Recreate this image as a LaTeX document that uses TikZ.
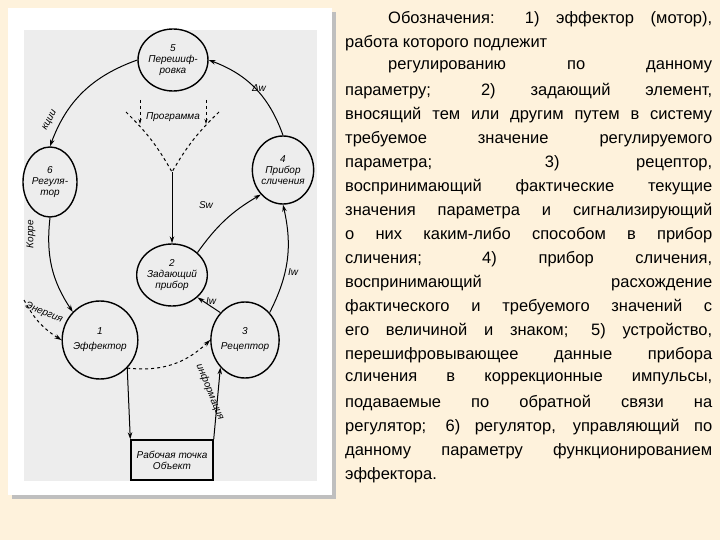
\documentclass[tikz,border=0pt]{standalone}
\usepackage{fontspec}
\setmainfont{Liberation Sans}
\newfontfamily\diag{Liberation Sans Italic}
\usetikzlibrary{arrows.meta,shapes.geometric}
\begin{document}
\begin{tikzpicture}[x=1pt,y=-1pt,
  circ/.style={draw,line width=1.4pt,ellipse,inner sep=0pt,align=center,font=\diag\fontsize{10}{11}\selectfont},
  lbl/.style={font=\diag\fontsize{10}{11}\selectfont,inner sep=1pt},
  con/.style={line width=1pt,-{Stealth[length=7pt,width=4.5pt]}},
  dcon/.style={con,dashed},
  txt/.style={anchor=west,inner sep=0pt,font=\fontsize{16.5}{18}\selectfont}]
\useasboundingbox (0,0) rectangle (720,540);
\fill[yellow!25!orange!12!white] (0,0) rectangle (720,540);
\fill[black!25] (12,12) rectangle (336,499);
\fill[white] (8,8) rectangle (332,495);
\fill[black!7] (24,30) rectangle (317,481);
% nodes
\node[circ,minimum width=58pt,minimum height=62pt] (n5) at (173,60) {5\\Перешиф-\\ровка};
\node[circ,minimum width=54pt,minimum height=70pt] (n6) at (50,182) {6\\Регуля-\\тор};
\node[circ,minimum width=56pt,minimum height=68pt] (n4) at (283,170) {4\\Прибор\\сличения};
\node[circ,minimum width=56pt,minimum height=62pt] (n2) at (172,275) {2\\Задающий\\прибор};
\node[circ,minimum width=58pt,minimum height=78pt] (n1) at (100,340) {1\\[4pt]Эффектор};
\node[circ,minimum width=62pt,minimum height=76pt] (n3) at (245,340) {3\\[4pt]Рецептор};
\node[draw,line width=1.4pt,minimum width=82pt,minimum height=40pt,align=center,font=\diag\fontsize{10}{11}\selectfont] (box) at (172,460) {Рабочая точка\\Объект};
% connectors
\draw[con] (n5.west) to[bend right=25] (n6.north);
\node[lbl,rotate=62] (l1) at (50,120) {кции};
\draw[con] (n6.south) to[bend right=20] (n1.north west);
\node[lbl,rotate=90] (l2) at (31,234) {Корре};
\draw[con] (n4.north) to[bend right=25] (n5.east);
\node[lbl] (l3) at (259,88) {Δw};
\draw[con] (n2.north east) to[bend left=12] (n4.south west);
\node[lbl] (l4) at (206,205) {Sw};
\draw[con] (n3.north east) to[bend right=20] (n4.south);
\node[lbl] (l5) at (293,272) {Iw};
\draw[con] (n3.north west) -- (n2.south east);
\node[lbl] (l6) at (211,301) {Iw};
\draw[con] (n1.south east) -- (box.north west);
\draw[con] (box.north east) -- (n3.south west);
\node[lbl,rotate=-68] (l7) at (210,392) {информация};
\draw[dcon] (n1.south east) to[bend right=25] (n3.west);
\coordinate (en) at (24,300);
\draw[dcon] (en) to[bend right=15] (n1.west);
\node[lbl,rotate=-22] (l8) at (44,313) {Энергия};
% programme
\node[lbl] (pr) at (173,117) {Программа};
\coordinate (j) at (172,172);
\coordinate (pl) at (126,112);
\coordinate (prr) at (219,112);
\draw[dashed,line width=1pt] (pl) to[bend left=8] (j);
\draw[dashed,line width=1pt] (prr) to[bend right=8] (j);
\coordinate (a1) at (140,100); \coordinate (a2) at (140,124);
\coordinate (b1) at (206,100); \coordinate (b2) at (206,124);
\draw[dashed,line width=0.8pt,-{Stealth[length=5pt,width=3pt]}] (a1) -- (a2);
\draw[dashed,line width=0.8pt,-{Stealth[length=5pt,width=3pt]}] (b1) -- (b2);
\draw[con] (j) -- (n2.north);
% text
\node[txt] (t1) at (388,19) {\makebox[324pt][s]{Обозначения: 1) эффектор (мотор),}};
\node[txt] (t2) at (345,43) {работа которого подлежит};
\node[txt] (t3) at (388,67) {\makebox[324pt][s]{регулированию по данному}};
\node[txt] (t4) at (345,91) {\makebox[367pt][s]{параметру; 2) задающий элемент,}};
\node[txt] (t5) at (345,115) {\makebox[367pt][s]{вносящий тем или другим путем в систему}};
\node[txt] (t6) at (345,139) {\makebox[367pt][s]{требуемое значение регулируемого}};
\node[txt] (t7) at (345,163) {\makebox[367pt][s]{параметра; 3) рецептор,}};
\node[txt] (t8) at (345,187) {\makebox[367pt][s]{воспринимающий фактические текущие}};
\node[txt] (t9) at (345,211) {\makebox[367pt][s]{значения параметра и сигнализирующий}};
\node[txt] (t10) at (345,235) {\makebox[367pt][s]{о них каким-либо способом в прибор}};
\node[txt] (t11) at (345,259) {\makebox[367pt][s]{сличения; 4) прибор сличения,}};
\node[txt] (t12) at (345,283) {\makebox[367pt][s]{воспринимающий расхождение}};
\node[txt] (t13) at (345,307) {\makebox[367pt][s]{фактического и требуемого значений с}};
\node[txt] (t14) at (345,331) {\makebox[367pt][s]{его величиной и знаком; 5) устройство,}};
\node[txt] (t15) at (345,355) {\makebox[367pt][s]{перешифровывающее данные прибора}};
\node[txt] (t16) at (345,379) {\makebox[367pt][s]{сличения в коррекционные импульсы,}};
\node[txt] (t17) at (345,403) {\makebox[367pt][s]{подаваемые по обратной связи на}};
\node[txt] (t18) at (345,427) {\makebox[367pt][s]{регулятор; 6) регулятор, управляющий по}};
\node[txt] (t19) at (345,451) {\makebox[367pt][s]{данному параметру функционированием}};
\node[txt] (t20) at (345,475) {эффектора.};
\end{tikzpicture}
\end{document}
